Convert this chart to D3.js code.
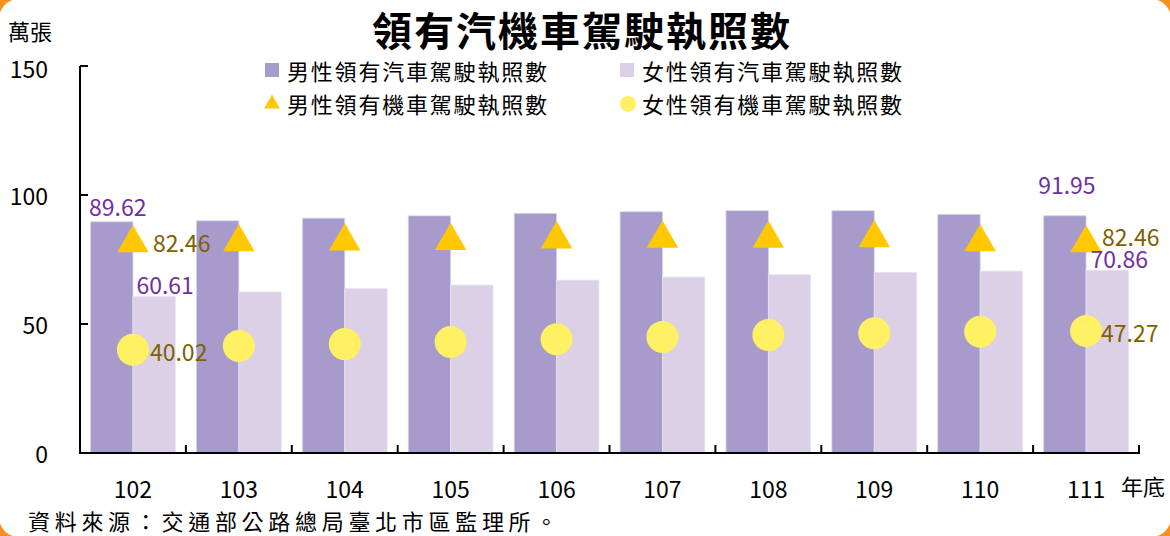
<!DOCTYPE html>
<html><head><meta charset="utf-8">
<script src="https://cdn.jsdelivr.net/npm/d3@7"></script>
<style>
html,body{margin:0;padding:0;background:#fff;}
svg{display:block;font-family:"Noto Sans CJK TC","Noto Sans",sans-serif;}
</style></head>
<body>
<svg id="chart" width="1170" height="536"></svg>
<script>
const categories = ["102","103","104","105","106","107","108","109","110","111"];
const maleCar    = [89.62, 90.0, 91.0, 91.9, 92.9, 93.5, 93.9, 93.9, 92.5, 91.95];
const femaleCar  = [60.61, 62.4, 63.7, 65.1, 67.0, 68.2, 69.1, 70.0, 70.5, 70.86];
const maleMoto   = [82.46, 82.9, 83.2, 83.4, 84.0, 84.2, 84.2, 84.4, 82.9, 82.46];
const femaleMoto = [40.02, 41.5, 42.2, 43.0, 44.1, 45.0, 45.7, 46.4, 47.0, 47.27];
const yTicks = [0, 50, 100, 150];
const seriesNames = ["男性領有汽車駕駛執照數","女性領有汽車駕駛執照數","男性領有機車駕駛執照數","女性領有機車駕駛執照數"];
const title = "領有汽機車駕駛執照數";
const yUnit = "萬張";
const xUnit = "年底";
const source = "資料來源：交通部公路總局臺北市區監理所。";

const colors = {maleCar:"#A69BCB", femaleCar:"#DCD0E6", maleMoto:"#FFC800", femaleMoto:"#FFF064",
  purpleText:"#7030A0", brownText:"#7F6000", frame:"#F7901E"};

const svg = d3.select("#chart");
const W = 1170, H = 536;

// orange frame corners
svg.append("rect").attr("x",0).attr("y",0).attr("width",W).attr("height",H).attr("fill",colors.frame);
svg.append("rect").attr("x",-1).attr("y",-1).attr("width",W+2).attr("height",H+2).attr("rx",20).attr("ry",20).attr("fill","#fff");

const x = d3.scaleBand().domain(categories).range([80,1139]).paddingInner(0.2).paddingOuter(0.1);
const sub = d3.scaleBand().domain(["m","f"]).range([0, x.bandwidth()]);
const y = d3.scaleLinear().domain([0,150]).range([453,66]);

// bars
const g = svg.append("g");
g.selectAll(".bm").data(maleCar).join("rect")
  .attr("x",(d,i)=>x(categories[i])+sub("m")).attr("y",d=>y(d))
  .attr("width",sub.bandwidth()).attr("height",d=>y(0)-y(d))
  .attr("fill",colors.maleCar).attr("stroke","#D8D2EA").attr("stroke-width",0.8);
g.selectAll(".bf").data(femaleCar).join("rect")
  .attr("x",(d,i)=>x(categories[i])+sub("f")).attr("y",d=>y(d))
  .attr("width",sub.bandwidth()).attr("height",d=>y(0)-y(d))
  .attr("fill",colors.femaleCar).attr("stroke","#E8E2F0").attr("stroke-width",0.8);

const cx = i => x(categories[i]) + x.bandwidth()/2;
const tri = d3.symbol().type(d3.symbolTriangle).size(430);
g.selectAll(".tm").data(maleMoto).join("path")
  .attr("d",tri).attr("transform",(d,i)=>`translate(${cx(i)},${y(d)+3})`)
  .attr("fill",colors.maleMoto);
g.selectAll(".cf").data(femaleMoto).join("circle")
  .attr("cx",(d,i)=>cx(i)).attr("cy",d=>y(d)).attr("r",16)
  .attr("fill",colors.femaleMoto);

// axes
const ax = svg.append("g").attr("stroke","#000").attr("stroke-width",2).attr("fill","none");
ax.append("line").attr("x1",80).attr("x2",80).attr("y1",y(150)).attr("y2",y(0));
ax.append("line").attr("x1",79).attr("x2",1140).attr("y1",y(0)).attr("y2",y(0));
yTicks.forEach(t=>{
  ax.append("line").attr("x1",80).attr("x2",88).attr("y1",y(t)).attr("y2",y(t));
});
const step = x.step();
categories.forEach((c,i)=>{
  const bx = x(c) + x.bandwidth() + step*x.paddingInner()/2;
  ax.append("line").attr("x1",bx).attr("x2",bx).attr("y1",y(0)).attr("y2",y(0)-8);
});

const txt = svg.append("g").attr("font-size",22).attr("fill","#000");
yTicks.forEach(t=>{
  txt.append("text").attr("x",48).attr("y",t===150?68:y(t)).attr("text-anchor","end")
    .attr("font-size",23).attr("dominant-baseline","central").text(t);
});
categories.forEach(c=>{
  txt.append("text").attr("x",x(c)+x.bandwidth()/2).attr("y",488).attr("text-anchor","middle")
    .attr("font-size",23).attr("dominant-baseline","central").text(c);
});
txt.append("text").attr("x",8).attr("y",30).attr("dominant-baseline","central").text(yUnit);
txt.append("text").attr("x",1121).attr("y",485).attr("dominant-baseline","central").text(xUnit);
txt.append("text").attr("x",28).attr("y",520).attr("dominant-baseline","central").attr("letter-spacing",4.7).text(source);

// title
svg.append("text").attr("x",582).attr("y",29).attr("text-anchor","middle").attr("dominant-baseline","central")
  .attr("font-size",40).attr("font-weight","bold").attr("letter-spacing",2).text(title);

// legend
const leg = svg.append("g").attr("font-size",22);
const legPos = [[265,70],[620,70],[265,103],[620,103]];
leg.append("rect").attr("x",legPos[0][0]).attr("y",legPos[0][1]-7).attr("width",14).attr("height",14).attr("fill",colors.maleCar);
leg.append("rect").attr("x",legPos[1][0]).attr("y",legPos[1][1]-7).attr("width",14).attr("height",14).attr("fill",colors.femaleCar);
leg.append("path").attr("d",d3.symbol().type(d3.symbolTriangle).size(110)).attr("transform",`translate(${legPos[2][0]+7},${legPos[2][1]+1})`).attr("fill",colors.maleMoto);
leg.append("circle").attr("cx",legPos[3][0]+8).attr("cy",legPos[3][1]+1).attr("r",8).attr("fill",colors.femaleMoto);
seriesNames.forEach((n,i)=>{
  leg.append("text").attr("x",legPos[i][0]+22).attr("y",legPos[i][1]).attr("dominant-baseline","central")
    .attr("letter-spacing",1.8).text(n);
});

// data labels
const lab = svg.append("g").attr("font-size",23);
const barC = (i,s)=> x(categories[i]) + sub(s) + sub.bandwidth()/2;
const labels = [
  {v:maleCar, i:0, cxf:i=>barC(i,"m"), dx:6, dy:-16, anchor:"middle", col:colors.purpleText},
  {v:femaleCar, i:0, cxf:i=>barC(i,"f"), dx:11, dy:-13, anchor:"middle", col:colors.purpleText},
  {v:maleMoto, i:0, cxf:cx, dx:20, dy:2, anchor:"start", col:colors.brownText},
  {v:femaleMoto, i:0, cxf:cx, dx:17, dy:1, anchor:"start", col:colors.brownText},
  {v:maleCar, i:9, cxf:i=>barC(i,"m"), dx:2, dy:-32, anchor:"middle", col:colors.purpleText},
  {v:femaleCar, i:9, cxf:i=>barC(i,"f"), dx:12, dy:-12, anchor:"middle", col:colors.purpleText},
  {v:maleMoto, i:9, cxf:cx, dx:16, dy:-4, anchor:"start", col:colors.brownText},
  {v:femaleMoto, i:9, cxf:cx, dx:15, dy:1, anchor:"start", col:colors.brownText}
];
labels.forEach(l=>{
  lab.append("text").attr("x",l.cxf(l.i)+l.dx).attr("y",y(l.v[l.i])+l.dy)
    .attr("text-anchor",l.anchor).attr("dominant-baseline","central").attr("fill",l.col)
    .text(l.v[l.i].toFixed(2));
});
</script>
</body></html>
